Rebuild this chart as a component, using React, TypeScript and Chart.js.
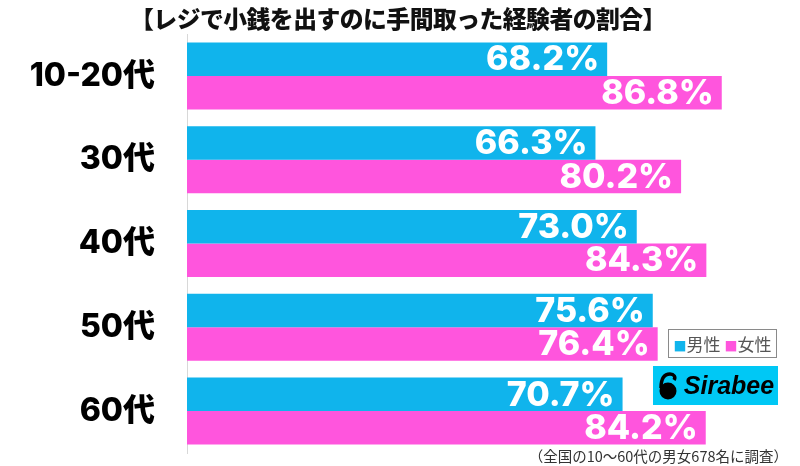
import React, { useEffect, useRef } from "react";
import { Chart, registerables } from "chart.js";

Chart.register(...registerables);

const categories = ["10-20代", "30代", "40代", "50代", "60代"];
const maleValues = [68.2, 66.3, 73.0, 75.6, 70.7];
const femaleValues = [86.8, 80.2, 84.3, 76.4, 84.2];
const seriesNames = ["男性", "女性"];
const title = "【レジで小銭を出すのに手間取った経験者の割合】";
const footnote = "（全国の10～60代の男女678名に調査）";

const BLUE = "#10B4EC";
const PINK = "#FF55DD";

const labelPlugin = {
  id: "barLabels",
  afterDatasetsDraw(chart: any) {
    const ctx = chart.ctx;
    ctx.save();
    ctx.fillStyle = "#ffffff";
    ctx.font = "800 34px Inter, 'Liberation Sans', Arial, sans-serif";
    ctx.textAlign = "right";
    ctx.textBaseline = "middle";
    chart.data.datasets.forEach((ds: any, di: number) => {
      const meta = chart.getDatasetMeta(di);
      meta.data.forEach((bar: any, i: number) => {
        const v = ds.data[i] as number;
        ctx.fillText(v.toFixed(1) + "%", bar.x - 8, bar.y + 1);
      });
    });
    ctx.restore();
  },
};

export default function App() {
  const ref = useRef<HTMLCanvasElement | null>(null);
  useEffect(() => {
    if (!ref.current) return;
    const chart = new Chart(ref.current, {
      type: "bar",
      data: {
        labels: categories,
        datasets: [
          { label: seriesNames[0], data: maleValues, backgroundColor: BLUE, borderWidth: 0 },
          { label: seriesNames[1], data: femaleValues, backgroundColor: PINK, borderWidth: 0 },
        ],
      },
      options: {
        indexAxis: "y",
        responsive: false,
        animation: false,
        layout: { padding: { top: 34, bottom: 13, left: 0, right: 0 } },
        plugins: {
          legend: { display: false },
          title: { display: false },
          tooltip: { enabled: false },
        },
        datasets: {
          bar: { categoryPercentage: 0.8, barPercentage: 1.0 },
        },
        scales: {
          x: { display: false, min: 0, max: 99.5 },
          y: {
            afterFit(scale: any) {
              scale.width = 187;
              scale.paddingTop = 0;
              scale.paddingBottom = 0;
            },
            grid: { display: false, drawTicks: false },
            border: { display: true, color: "#d8d8d8", width: 1 },
            ticks: {
              color: "#000",
              padding: 32,
              font: { family: "Inter, 'Liberation Sans', Arial, 'Noto Sans CJK JP', sans-serif", size: 32, weight: "800" },
            },
          },
        },
      },
      plugins: [labelPlugin],
    } as any);
    return () => chart.destroy();
  }, []);

  return (
    <div style={{ position: "absolute", left: 0, top: 0, width: 800, height: 466, background: "#fff", overflow: "hidden" }}>
      <canvas ref={ref} width={800} height={466} style={{ position: "absolute", left: 0, top: 0 }} />
      <div
        style={{
          position: "absolute",
          left: 0,
          width: 796,
          top: 3,
          textAlign: "center",
          fontFamily: "'Noto Sans CJK JP', sans-serif",
          fontWeight: 900,
          fontSize: 23.8,
          lineHeight: "30px",
          color: "#111",
          letterSpacing: -0.5,
          whiteSpace: "nowrap",
        }}
      >
        {title}
      </div>
      <div
        style={{
          position: "absolute",
          left: 668,
          top: 329,
          width: 107,
          height: 27,
          border: "1px solid #8a8a8a",
          fontFamily: "'Noto Sans CJK JP', sans-serif",
          fontSize: 17,
          lineHeight: "27px",
          color: "#555",
          whiteSpace: "nowrap",
          textAlign: "center",
        }}
      >
        <span style={{ color: BLUE, fontSize: 13 }}>■</span>
        {seriesNames[0]}
        <span style={{ color: PINK, fontSize: 13, marginLeft: 4 }}>■</span>
        {seriesNames[1]}
      </div>
      <div
        style={{
          position: "absolute",
          left: 653,
          top: 366,
          width: 125,
          height: 39,
          background: "#00C8F5",
          display: "flex",
          alignItems: "center",
          justifyContent: "center",
        }}
      >
        <svg width="22" height="28" viewBox="0 0 22 28" style={{ marginRight: 5 }}>
          <path d="M4 16 C4 6 8 2 13 2 C17 2 19 5 17 8" stroke="#000" strokeWidth="3.5" fill="none" />
          <circle cx="11" cy="19" r="8.5" fill="#000" />
        </svg>
        <span
          style={{
            fontFamily: "'Liberation Sans', Arial, sans-serif",
            fontWeight: "bold",
            fontStyle: "italic",
            fontSize: 25,
            color: "#000",
          }}
        >
          Sirabee
        </span>
      </div>
      <div
        style={{
          position: "absolute",
          left: 520,
          width: 268,
          top: 446,
          textAlign: "right",
          fontFamily: "'Noto Sans CJK JP', sans-serif",
          fontSize: 14.5,
          lineHeight: "20px",
          color: "#333",
          whiteSpace: "nowrap",
        }}
      >
        {footnote}
      </div>
    </div>
  );
}
